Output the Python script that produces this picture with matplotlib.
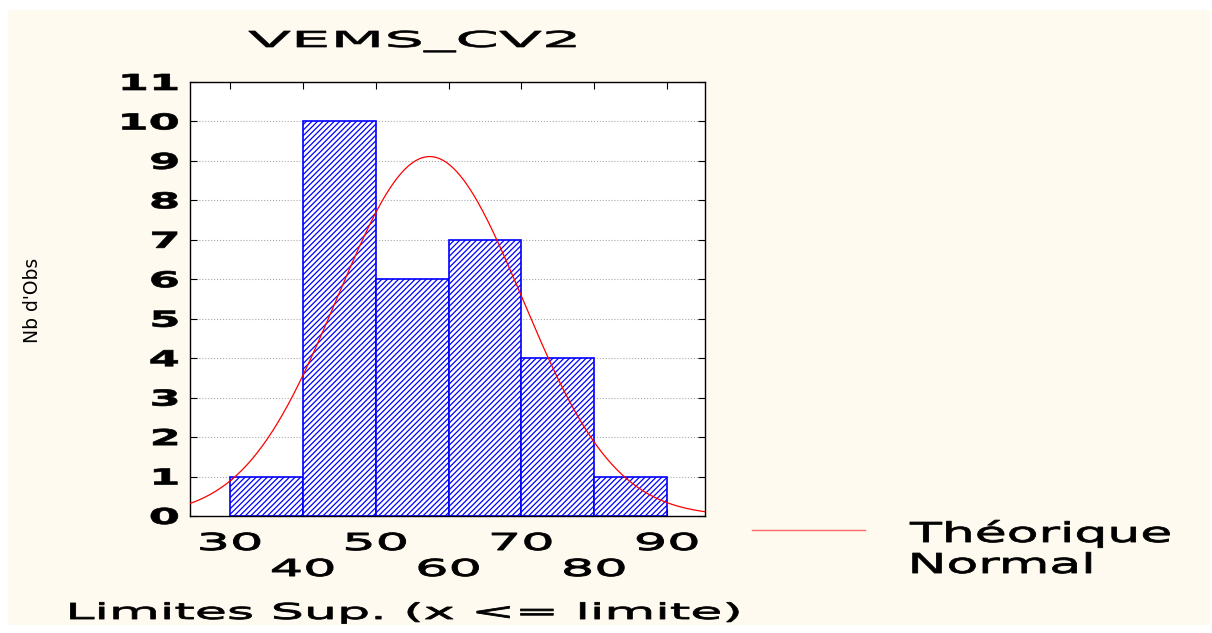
import numpy as np
import matplotlib.pyplot as plt
from matplotlib.patches import Rectangle
from matplotlib.patheffects import AbstractPathEffect
from matplotlib.transforms import Affine2D

# histogram data
bin_edges = [30, 40, 50, 60, 70, 80, 90]
counts = [1, 10, 6, 7, 4, 1]
# fitted normal (estimated from the curve)
mu = 57.4
sigma = 12.7
n_obs = sum(counts)
bin_width = 10

x_ticks_row1 = [30, 50, 70, 90]
x_ticks_row2 = [40, 60, 80]
y_ticks = list(range(0, 12))


class Stretch(AbstractPathEffect):
    """Widen the glyphs horizontally (and thicken them a little)."""

    def __init__(self, sx, anchor='center', lw=0.0):
        super().__init__()
        self.sx = sx
        self.anchor = anchor
        self.lw = lw

    def draw_path(self, renderer, gc, tpath, affine, rgbFace=None):
        ext = tpath.get_extents(affine)
        if self.anchor == 'left':
            cx = ext.x0
        elif self.anchor == 'right':
            cx = ext.x1
        else:
            cx = 0.5 * (ext.x0 + ext.x1)
        new_affine = affine + Affine2D().translate(-cx, 0).scale(self.sx, 1).translate(cx, 0)
        gc0 = renderer.new_gc()
        gc0.copy_properties(gc)
        if self.lw > 0 and rgbFace is not None:
            gc0.set_linewidth(self.lw)
            gc0.set_foreground(rgbFace)
        else:
            gc0.set_linewidth(0)
        renderer.draw_path(gc0, tpath, new_affine, rgbFace)
        gc0.restore()


plt.rcParams['font.family'] = ['DejaVu Sans']
plt.rcParams['hatch.linewidth'] = 0.9
plt.rcParams['hatch.color'] = 'blue'

W, H = 1212, 633
fig = plt.figure(figsize=(W / 100, H / 100), dpi=100, facecolor='white')
fig.patches.append(Rectangle((8 / W, 8 / H), 1 - 10 / W, 1 - 18 / H,
                             transform=fig.transFigure, facecolor='#fffaf0',
                             edgecolor='none', zorder=-10))

ax = fig.add_axes([190 / W, 1 - 516 / H, (705 - 190) / W, (516 - 82) / H])
ax.set_facecolor('white')

lefts = bin_edges[:-1]
ax.bar(lefts, counts, width=bin_width, align='edge', facecolor='white',
       edgecolor='blue', hatch='//////', linewidth=1.2, zorder=2)

xs = np.linspace(24.5, 95.2, 300)
ys = n_obs * bin_width / (sigma * np.sqrt(2 * np.pi)) * np.exp(-0.5 * ((xs - mu) / sigma) ** 2)
ax.plot(xs, ys, color='red', linewidth=0.9, zorder=3)

ax.set_xlim(24.5, 95.2)
ax.set_ylim(0, 11)
ax.set_yticks(y_ticks)
ax.set_yticklabels([str(v) for v in y_ticks], fontsize=15.8, fontweight='bold',
                   path_effects=[Stretch(2.05, 'right', 0.5)])
ax.set_xticks(sorted(x_ticks_row1 + x_ticks_row2))
ax.set_xticklabels([])
ax.grid(axis='y', linestyle=':', color='#aaaaaa', linewidth=0.8, zorder=1)
ax.set_axisbelow(True)
ax.tick_params(direction='in', top=True, right=True, length=5, pad=8)
for s in ax.spines.values():
    s.set_linewidth(1.0)

# two-row tick labels (baselines below the axis)
for v in x_ticks_row1:
    ax.text(v, -34 / 434, str(v), transform=ax.get_xaxis_transform(),
            ha='center', va='baseline', fontsize=16.8,
            path_effects=[Stretch(2.25, 'center', 0.7)])
for v in x_ticks_row2:
    ax.text(v, -60 / 434, str(v), transform=ax.get_xaxis_transform(),
            ha='center', va='baseline', fontsize=16.8,
            path_effects=[Stretch(2.25, 'center', 0.7)])

fig.text(413 / W, 1 - 47 / H, 'VEMS_CV2', ha='center', va='baseline',
         fontsize=15.8, path_effects=[Stretch(2.85, 'center', 0.5)])
fig.text(405 / W, 1 - 619 / H, 'Limites Sup. (x <= limite)', ha='center',
         va='baseline', fontsize=15.8, path_effects=[Stretch(2.38, 'center', 0.6)])
fig.text(32 / W, 1 - 300 / H, "Nb d'Obs", rotation=90, ha='center',
         va='center', fontsize=13.5)

# legend drawn by hand in figure coords
fig.lines.append(plt.Line2D([752 / W, 865 / W], [1 - 530 / H, 1 - 530 / H],
                            transform=fig.transFigure, color='#ff6666',
                            linewidth=1.0))
fig.text(910 / W, 1 - 542 / H, 'Théorique', ha='left', va='baseline',
         fontsize=19.7, path_effects=[Stretch(1.9, 'left', 0.6)])
fig.text(910 / W, 1 - 573 / H, 'Normal', ha='left', va='baseline',
         fontsize=19.7, path_effects=[Stretch(1.9, 'left', 0.6)])

fig.savefig('out.png', dpi=100, facecolor=fig.get_facecolor())
